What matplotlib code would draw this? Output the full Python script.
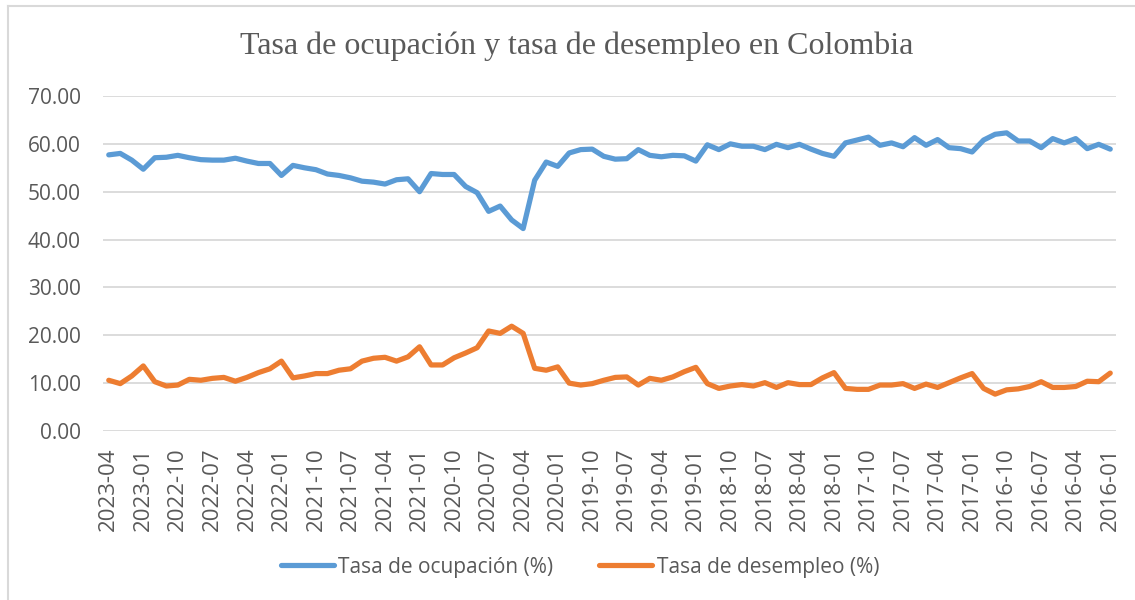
import matplotlib
matplotlib.use("Agg")
import matplotlib.pyplot as plt
from matplotlib.lines import Line2D
import pandas as pd

# Monthly categories, newest first (2023-04 ... 2016-01)
months = [str(p) for p in pd.period_range("2016-01", "2023-04", freq="M")][::-1]

tick_labels = ["2023-04", "2023-01", "2022-10", "2022-07", "2022-04", "2022-01",
               "2021-10", "2021-07", "2021-04", "2021-01", "2020-10", "2020-07",
               "2020-04", "2020-01", "2019-10", "2019-07", "2019-04", "2019-01",
               "2018-10", "2018-07", "2018-04", "2018-01", "2017-10", "2017-07",
               "2017-04", "2017-01", "2016-10", "2016-07", "2016-04", "2016-01"]

ocupacion = [57.7, 58.0, 56.6, 54.7, 57.1, 57.2, 57.6, 57.1, 56.7, 56.6,
             56.6, 57.0, 56.4, 55.9, 55.9, 53.4, 55.5, 55.0, 54.6, 53.7,
             53.4, 52.9, 52.2, 52.0, 51.6, 52.5, 52.7, 50.0, 53.8, 53.6,
             53.6, 51.1, 49.8, 45.9, 47.0, 44.1, 42.3, 52.4, 56.2, 55.3,
             58.1, 58.8, 58.9, 57.4, 56.8, 56.9, 58.8, 57.6, 57.3, 57.6,
             57.5, 56.4, 59.8, 58.8, 60.0, 59.5, 59.5, 58.8, 59.9, 59.2,
             59.9, 58.9, 58.0, 57.4, 60.2, 60.8, 61.4, 59.7, 60.2, 59.4,
             61.3, 59.7, 60.9, 59.2, 59.0, 58.3, 60.8, 62.0, 62.3, 60.6,
             60.6, 59.2, 61.1, 60.2, 61.1, 59.0, 59.9, 58.9]

desempleo = [10.6, 9.9, 11.5, 13.6, 10.3, 9.4, 9.6, 10.8, 10.6, 11.0,
             11.2, 10.4, 11.2, 12.2, 13.0, 14.6, 11.1, 11.5, 12.0, 12.0,
             12.7, 13.0, 14.6, 15.2, 15.4, 14.6, 15.5, 17.6, 13.8, 13.8,
             15.3, 16.3, 17.4, 20.9, 20.4, 21.9, 20.4, 13.1, 12.7, 13.4,
             10.0, 9.6, 9.9, 10.6, 11.2, 11.3, 9.6, 11.0, 10.6, 11.3,
             12.4, 13.3, 9.9, 8.9, 9.4, 9.7, 9.4, 10.1, 9.1, 10.1,
             9.7, 9.7, 11.1, 12.2, 8.9, 8.7, 8.7, 9.6, 9.6, 9.9,
             8.9, 9.8, 9.1, 10.1, 11.1, 12.0, 8.9, 7.7, 8.6, 8.8,
             9.3, 10.3, 9.1, 9.1, 9.3, 10.4, 10.3, 12.1]

BLUE = "#5B9BD5"
ORANGE = "#ED7D31"
TXT = "#595959"
GRID = "#D9D9D9"

W, H = 1135, 600
fig = plt.figure(figsize=(W / 100, H / 100), dpi=100)
ax = fig.add_axes([103 / W, 1 - 431 / H, (1116 - 103) / W, (431 - 96) / H])

x = list(range(len(months)))
l1, = ax.plot(x, ocupacion, color=BLUE, lw=3.75, solid_joinstyle="round",
              solid_capstyle="round", label="Tasa de ocupación (%)")
l2, = ax.plot(x, desempleo, color=ORANGE, lw=3.75, solid_joinstyle="round",
              solid_capstyle="round", label="Tasa de desempleo (%)")

ax.set_xlim(-0.5, len(months) - 0.5)
ax.set_ylim(0, 70)
ax.set_yticks(range(0, 71, 10))
ax.set_yticklabels([f"{v:.2f}" for v in range(0, 71, 10)])
ax.set_xticks([months.index(t) for t in tick_labels])
ax.set_xticklabels(tick_labels, rotation=90)

ax.grid(axis="y", color=GRID, lw=1.3)
ax.set_axisbelow(True)
for s in ax.spines.values():
    s.set_visible(False)
ax.tick_params(axis="both", length=0, colors=TXT)
ax.tick_params(axis="y", pad=16, labelsize=15)
ax.tick_params(axis="x", pad=12, labelsize=16)
for lab in ax.get_xticklabels() + ax.get_yticklabels():
    lab.set_fontfamily("Open Sans")

fig.text(577 / W, 1 - 46 / H, "Tasa de ocupación y tasa de desempleo en Colombia",
         ha="center", va="center", fontsize=23, color=TXT, family="Liberation Serif")

leg = fig.legend(handles=[l1, l2], loc="center", bbox_to_anchor=(580 / W, 1 - 567 / H),
                 ncol=2, frameon=False, handlelength=2.55, handletextpad=0.2,
                 columnspacing=2.2, prop={"family": "Open Sans", "size": 15})
for t in leg.get_texts():
    t.set_color(TXT)

# outer chart border (extends past the right and bottom edges)
fig.add_artist(Line2D([8 / W, 1.0], [1 - 6 / H, 1 - 6 / H], transform=fig.transFigure,
                      color=GRID, lw=1.5))
fig.add_artist(Line2D([8 / W, 8 / W], [0.0, 1 - 6 / H], transform=fig.transFigure,
                      color=GRID, lw=1.5))

fig.savefig("out.png", dpi=100)
